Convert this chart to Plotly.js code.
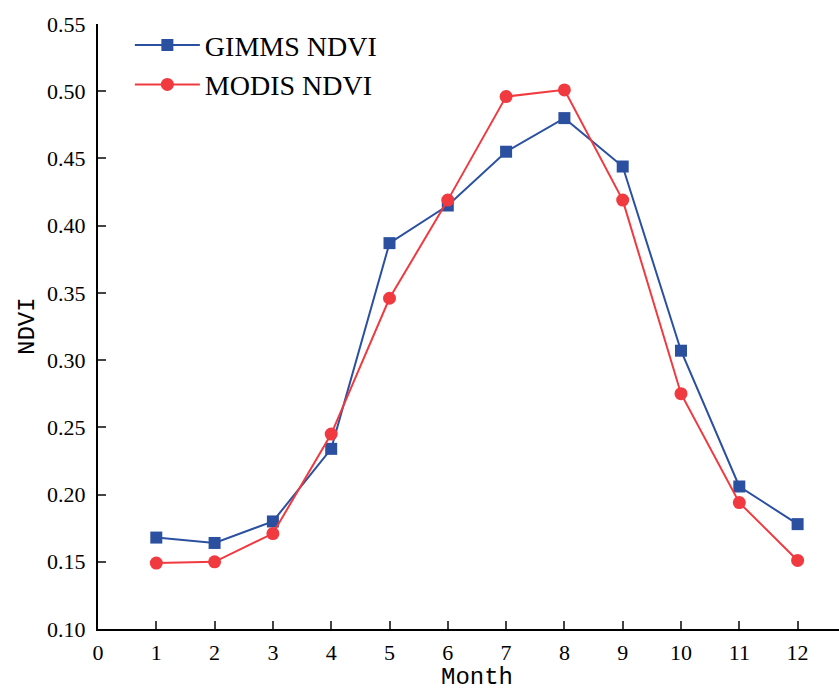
<!DOCTYPE html>
<html><head><meta charset="utf-8">
<script src="https://cdn.plot.ly/plotly-3.0.1.min.js"></script>
<style>html,body{margin:0;padding:0;background:#fff}</style>
</head><body>
<div id="chart" style="width:839px;height:690px"></div>
<script>
var months = [1,2,3,4,5,6,7,8,9,10,11,12];
var gimms = [0.168,0.164,0.180,0.234,0.387,0.415,0.455,0.480,0.444,0.307,0.206,0.178];
var modis = [0.149,0.150,0.171,0.245,0.346,0.419,0.496,0.501,0.419,0.275,0.194,0.151];
var xTicks = [0,1,2,3,4,5,6,7,8,9,10,11,12];
var yTicks = [0.10,0.15,0.20,0.25,0.30,0.35,0.40,0.45,0.50,0.55];

var traces = [
  {x: months, y: gimms, name: 'GIMMS NDVI', mode: 'lines+markers', type: 'scatter',
   line: {color: '#2B50A0', width: 2}, marker: {symbol: 'square', size: 12, color: '#2B50A0'}},
  {x: months, y: modis, name: 'MODIS NDVI', mode: 'lines+markers', type: 'scatter',
   line: {color: '#F03A40', width: 2}, marker: {symbol: 'circle', size: 13, color: '#F03A40'}}
];
var layout = {
  width: 839, height: 690,
  margin: {l: 98, r: 0, t: 24, b: 61},
  paper_bgcolor: '#fff', plot_bgcolor: '#fff',
  font: {family: 'Liberation Serif, Times New Roman, serif', color: '#000', size: 22},
  showlegend: true,
  legend: {x: 0.043, y: 1.006, xanchor: 'left', yanchor: 'top', font: {size: 28, family: 'Liberation Serif, serif'},
           bgcolor: 'rgba(0,0,0,0)', itemwidth: 65, tracegroupgap: 0},
  xaxis: {range: [0, 12.71], tickvals: xTicks, ticktext: xTicks.map(String), ticks: 'inside', ticklen: 8, tickwidth: 2,
          showline: true, linewidth: 2, linecolor: '#000', showgrid: false, zeroline: false,
          tickfont: {size: 22}, ticklabelstandoff: 3},
  yaxis: {range: [0.10, 0.55], tickvals: yTicks, ticktext: yTicks.map(function(v){return v.toFixed(2);}), ticks: 'inside', ticklen: 8, tickwidth: 2,
          showline: true, linewidth: 2, linecolor: '#000', showgrid: false, zeroline: false,
          tickfont: {size: 22}, ticklabelstandoff: 6},
  annotations: [
    {text: 'Month', xref: 'paper', yref: 'paper', x: (477-98)/741, y: -(677-629)/605, xanchor: 'center', yanchor: 'middle',
     showarrow: false, font: {family: 'Liberation Mono, monospace', size: 24}},
    {text: 'NDVI', xref: 'paper', yref: 'paper', x: -(98-27)/741, y: (629-326)/605, xanchor: 'center', yanchor: 'middle',
     textangle: -90, showarrow: false, font: {family: 'Liberation Mono, monospace', size: 24}}
  ]
};
Plotly.newPlot('chart', traces, layout, {displayModeBar: false, staticPlot: true});
</script>
</body></html>
